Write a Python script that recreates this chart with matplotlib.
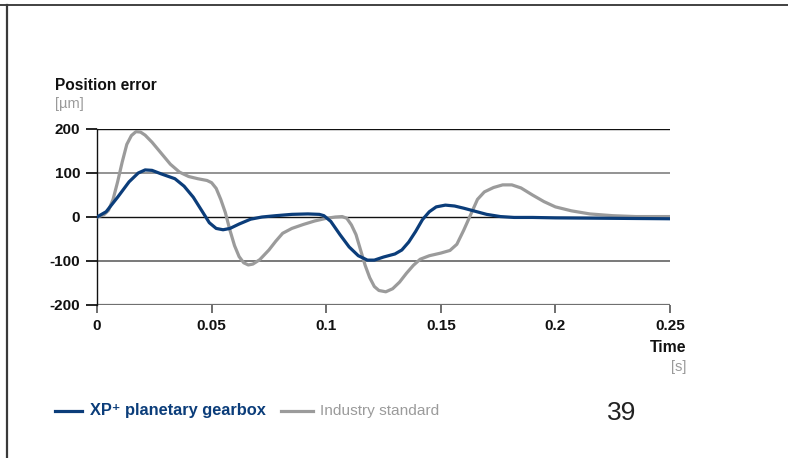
import matplotlib
matplotlib.use("Agg")
import matplotlib.pyplot as plt
from matplotlib.lines import Line2D

plt.rcParams['font.family'] = ['Liberation Sans', 'DejaVu Sans']

# ---- data ----
t_xp = [0, 0.004, 0.009, 0.014, 0.018, 0.021, 0.024, 0.028, 0.034, 0.038, 0.042, 0.046,
        0.049, 0.052, 0.055, 0.058, 0.062, 0.067, 0.072, 0.078, 0.085, 0.092, 0.097, 0.099,
        0.102, 0.106, 0.110, 0.114, 0.118, 0.121, 0.125, 0.130, 0.133, 0.136, 0.139, 0.142,
        0.145, 0.148, 0.152, 0.156, 0.160, 0.165, 0.170, 0.176, 0.182, 0.19, 0.2, 0.25]
v_xp = [0, 12, 45, 80, 100, 107, 106, 98, 87, 70, 45, 12,
        -13, -26, -29, -26, -16, -5, 0, 3, 6, 7, 6, 3,
        -10, -40, -68, -88, -98, -98, -91, -84, -75, -57, -33, -6,
        12, 23, 27, 25, 20, 13, 6, 1, -1, -1, -2, -4]

t_ind = [0, 0.003, 0.005, 0.007, 0.009, 0.011, 0.013, 0.015, 0.017, 0.019, 0.021, 0.024,
         0.028, 0.032, 0.036, 0.040, 0.044, 0.048, 0.050, 0.052, 0.054, 0.056, 0.058, 0.060,
         0.062, 0.064, 0.066, 0.068, 0.071, 0.075, 0.078, 0.081, 0.085, 0.090, 0.095, 0.100,
         0.104, 0.107, 0.109, 0.111, 0.113, 0.115, 0.117, 0.119, 0.121, 0.123, 0.126, 0.129,
         0.132, 0.135, 0.138, 0.141, 0.145, 0.150, 0.154, 0.157, 0.160, 0.163, 0.166, 0.169,
         0.173, 0.177, 0.181, 0.185, 0.190, 0.195, 0.200, 0.207, 0.215, 0.225, 0.235, 0.25]
v_ind = [0, 5, 15, 40, 80, 125, 165, 185, 194, 193, 186, 170,
         145, 120, 102, 92, 87, 83, 78, 65, 40, 10, -30, -65,
         -90, -104, -109, -107, -97, -75, -55, -37, -26, -17, -9, -3,
         0, 1, -3, -18, -40, -75, -110, -138, -158, -167, -170, -163,
         -148, -128, -110, -96, -88, -82, -76, -62, -30, 5, 40, 57,
         67, 73, 73, 66, 50, 35, 23, 14, 7, 3, 1, 1]

x_ticks = [0, 0.05, 0.1, 0.15, 0.2, 0.25]
x_labels = ['0', '0.05', '0.1', '0.15', '0.2', '0.25']
y_ticks = [-200, -100, 0, 100, 200]
y_labels = ['-200', '-100', '0', '100', '200']

BLUE = '#0b3d7a'
GRAY = '#9b9b9b'

W, H = 788, 458
fig = plt.figure(figsize=(W / 100, H / 100), dpi=100)
fig.patch.set_facecolor('white')

ax = fig.add_axes([97 / W, 1 - 305 / H, (670 - 97) / W, (305 - 129) / H])
ax.set_xlim(0, 0.25)
ax.set_ylim(-200, 200)
ax.patch.set_alpha(0)

grid_colors = {200: '#111111', 100: '#8a8a8a', 0: '#111111', -100: '#555555', -200: '#707070'}
grid_lw = {200: 1.0, 100: 1.3, 0: 1.0, -100: 1.1, -200: 1.6}
for yv in y_ticks:
    ax.axhline(yv, color=grid_colors[yv], lw=grid_lw[yv], zorder=1)

for s in ['top', 'right', 'bottom']:
    ax.spines[s].set_visible(False)
ax.spines['left'].set_color('#111111')
ax.spines['left'].set_linewidth(1.0)
ax.spines['left'].set_zorder(2)

ax.plot(t_ind, v_ind, color=GRAY, lw=2.3, solid_capstyle='round', zorder=3)
ax.plot(t_xp, v_xp, color=BLUE, lw=2.3, solid_capstyle='round', zorder=4)

ax.set_xticks(x_ticks)
ax.set_xticklabels(x_labels, fontsize=11, fontweight='bold', color='#111111')
ax.set_yticks(y_ticks)
ax.set_yticklabels(y_labels, fontsize=11, fontweight='bold', color='#111111')
ax.tick_params(axis='x', direction='out', length=5.8, width=1.2, color='#555555', pad=4.5)
ax.tick_params(axis='y', direction='out', length=8, width=1.2, pad=4)
for tk, yv in zip(ax.yaxis.get_major_ticks(), y_ticks):
    tk.tick1line.set_color(grid_colors[yv])
ax.xaxis.get_major_ticks()[0].tick1line.set_color('#111111')

# axis titles
fig.text(55 / W, 1 - 86 / H, 'Position error', fontsize=11.2, fontweight='bold',
         color='#111111', ha='left', va='center')
fig.text(55 / W, 1 - 104 / H, '[µm]', fontsize=10.5, color='#9a9a9a', ha='left', va='center')
fig.text(686 / W, 1 - 348 / H, 'Time', fontsize=11.3, fontweight='bold',
         color='#111111', ha='right', va='center')
fig.text(686 / W, 1 - 367 / H, '[s]', fontsize=10.5, color='#9a9a9a', ha='right', va='center')

# legend
ly = 1 - 411 / H
fig.add_artist(Line2D([55 / W, 82 / W], [ly, ly], color=BLUE, lw=2.3))
fig.text(90 / W, ly, 'XP⁺ planetary gearbox', fontsize=11.8, fontweight='bold',
         color=BLUE, ha='left', va='center')
fig.add_artist(Line2D([281 / W, 313 / W], [ly, ly], color=GRAY, lw=2.3))
fig.text(320 / W, ly, 'Industry standard', fontsize=11.1, color=GRAY, ha='left', va='center')

# page number
fig.text(622 / W, 1 - 413 / H, '39', fontsize=19, color='#222222', ha='center', va='center')

# page borders
fig.add_artist(Line2D([0, 1], [1 - 4.5 / H, 1 - 4.5 / H], color='#333333', lw=1.3))
fig.add_artist(Line2D([7 / W, 7 / W], [0, 1 - 4.5 / H], color='#3a3a3a', lw=1.6))

fig.savefig('out.png', dpi=100, facecolor='white')
